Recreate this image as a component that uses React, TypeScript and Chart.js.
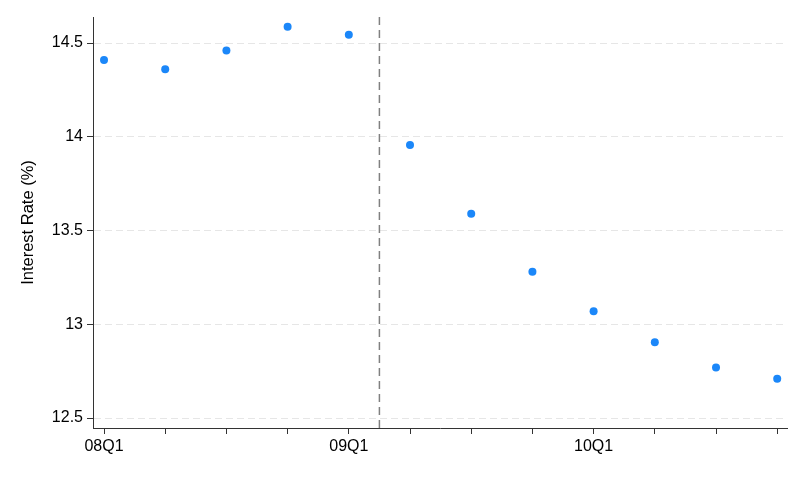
import { useEffect, useRef } from "react"
import { Chart, registerables } from "chart.js"

Chart.register(...registerables)

// quarters on the x axis, one point each
const quarters = ["08Q1", "08Q2", "08Q3", "08Q4", "09Q1", "09Q2", "09Q3", "09Q4", "10Q1", "10Q2", "10Q3", "10Q4"]
const rates = [14.41, 14.36, 14.46, 14.587, 14.545, 13.956, 13.59, 13.28, 13.07, 12.904, 12.77, 12.71]
const labeledQuarters = ["08Q1", "09Q1", "10Q1"]
const yTicks = [12.5, 13, 13.5, 14, 14.5]
// dashed break line sits half way between 09Q1 and 09Q2
const breakPosition = 4.5
const yMin = 12.447
const yMax = 14.639
const xMin = -0.18
const xMax = 11.16

const FONT = "'Liberation Sans', Arial, Helvetica, sans-serif"

export default function App() {
  const chartRef = useRef<HTMLCanvasElement>(null)
  const chartInstance = useRef<Chart | null>(null)

  useEffect(() => {
    document.body.style.margin = "0"
    if (!chartRef.current) return
    if (chartInstance.current) chartInstance.current.destroy()

    const ctx = chartRef.current.getContext("2d")
    if (!ctx) return

    chartInstance.current = new Chart(ctx, {
      type: "scatter",
      data: {
        datasets: [
          {
            data: quarters.map((_, i) => ({ x: i, y: rates[i] })),
            pointRadius: 4,
            pointBackgroundColor: "#1b87f9",
            pointBorderWidth: 0,
            pointHoverRadius: 4,
          },
          {
            type: "line",
            data: [
              { x: breakPosition, y: yMin },
              { x: breakPosition, y: yMax },
            ],
            borderColor: "#808080",
            borderWidth: 1.5,
            borderDash: [8, 5],
            pointRadius: 0,
            fill: false,
          } as any,
        ],
      },
      options: {
        animation: false,
        responsive: false,
        layout: { padding: { top: 17, right: 18, left: 0, bottom: 0 } },
        plugins: {
          legend: { display: false },
          tooltip: { enabled: false },
        },
        scales: {
          x: {
            type: "linear",
            min: xMin,
            max: xMax,
            afterBuildTicks: (scale) => {
              scale.ticks = quarters.map((_, i) => ({ value: i }))
            },
            afterFit: (scale) => {
              scale.height = 54
            },
            ticks: {
              autoSkip: false,
              maxRotation: 0,
              padding: 3,
              color: "#000",
              font: { family: FONT, size: 16 },
              callback: (v) => {
                const q = quarters[Number(v)]
                return labeledQuarters.includes(q) ? q : ""
              },
            },
            grid: {
              drawOnChartArea: false,
              tickLength: 6,
              tickColor: "#333",
              tickWidth: 1,
            },
            border: { color: "#333", width: 1 },
          },
          y: {
            min: yMin,
            max: yMax,
            afterBuildTicks: (scale) => {
              scale.ticks = yTicks.map((v) => ({ value: v }))
            },
            afterFit: (scale) => {
              scale.width = 93
            },
            ticks: {
              padding: 4,
              color: "#000",
              font: { family: FONT, size: 16 },
              callback: (v) => String(v),
            },
            grid: {
              color: "#e6e6e6",
              lineWidth: 1,
              tickLength: 6,
              tickColor: "#333",
              tickWidth: 1,
            },
            border: { color: "#333", width: 1, dash: [7, 4] },
            title: {
              display: true,
              text: "Interest Rate (%)",
              color: "#000",
              font: { family: FONT, size: 16.5 },
              padding: { top: 19, bottom: 0 },
            },
          },
        },
      },
    })

    return () => {
      if (chartInstance.current) {
        chartInstance.current.destroy()
        chartInstance.current = null
      }
    }
  }, [])

  return (
    <div style={{ position: "fixed", top: 0, left: 0, width: 805, height: 482, background: "#fff" }}>
      <canvas ref={chartRef} width={805} height={482} />
    </div>
  )
}
